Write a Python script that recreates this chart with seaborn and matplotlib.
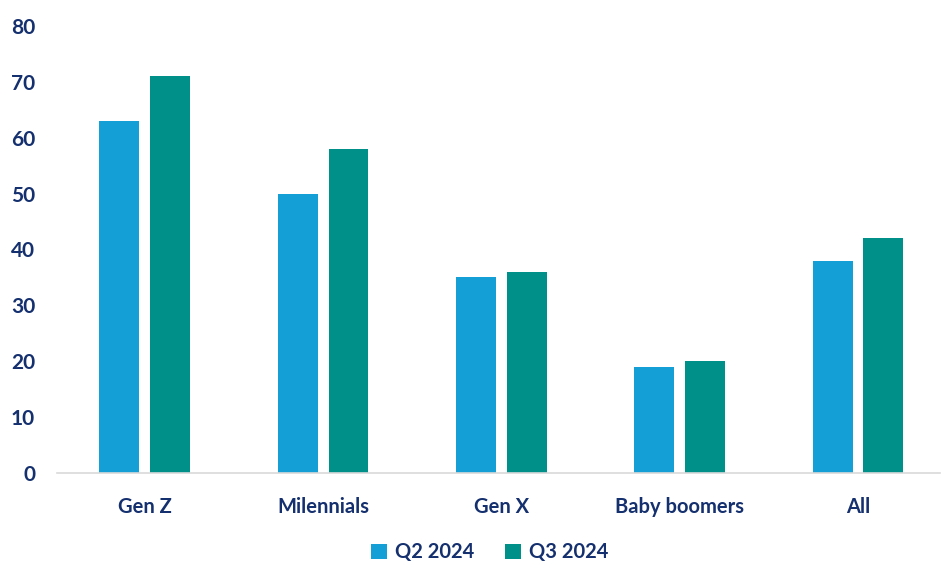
import matplotlib
matplotlib.use("Agg")
import matplotlib.pyplot as plt
import seaborn as sns
import pandas as pd

categories = ["Gen Z", "Milennials", "Gen X", "Baby boomers", "All"]
q2_2024 = [63, 50, 35, 19, 38]
q3_2024 = [71, 58, 36, 20, 42]
series_names = ["Q2 2024", "Q3 2024"]

df = pd.DataFrame({
    "group": categories * 2,
    "value": q2_2024 + q3_2024,
    "period": [series_names[0]] * 5 + [series_names[1]] * 5,
})

sns.set_theme(style="white")
plt.rcParams['font.family'] = ['Lato', 'DejaVu Sans']
navy = "#15306E"

fig = plt.figure(figsize=(9.41, 5.63), dpi=100)
ax = fig.add_axes([0.061, 0.16, 0.938, 0.794])
sns.barplot(data=df, x="group", y="value", hue="period", order=categories,
            palette=["#14A0D6", "#00908A"], width=0.57, gap=0.215,
            saturation=1, linewidth=0, ax=ax)

ax.set_ylim(0, 80)
ax.set_xlim(-0.49, 4.46)
ax.set_yticks(range(0, 81, 10))
ax.set_xlabel("")
ax.set_ylabel("")
for s in ["top", "right", "left"]:
    ax.spines[s].set_visible(False)
ax.spines["bottom"].set_color("#D9D9D9")
ax.spines["bottom"].set_linewidth(1.2)
ax.tick_params(axis="y", length=0, pad=16, labelsize=15, labelcolor=navy)
ax.tick_params(axis="x", length=0, pad=17, labelsize=14.5, labelcolor=navy)
for lbl in ax.get_xticklabels() + ax.get_yticklabels():
    lbl.set_fontweight("bold")

ax.legend(loc="upper center", bbox_to_anchor=(0.49, -0.115), ncol=2, frameon=False,
          handlelength=0.8, handleheight=0.8, handletextpad=0.4, columnspacing=1.5,
          prop={"size": 14.5, "weight": "bold"}, labelcolor=navy)

fig.savefig("out.png", dpi=100)
